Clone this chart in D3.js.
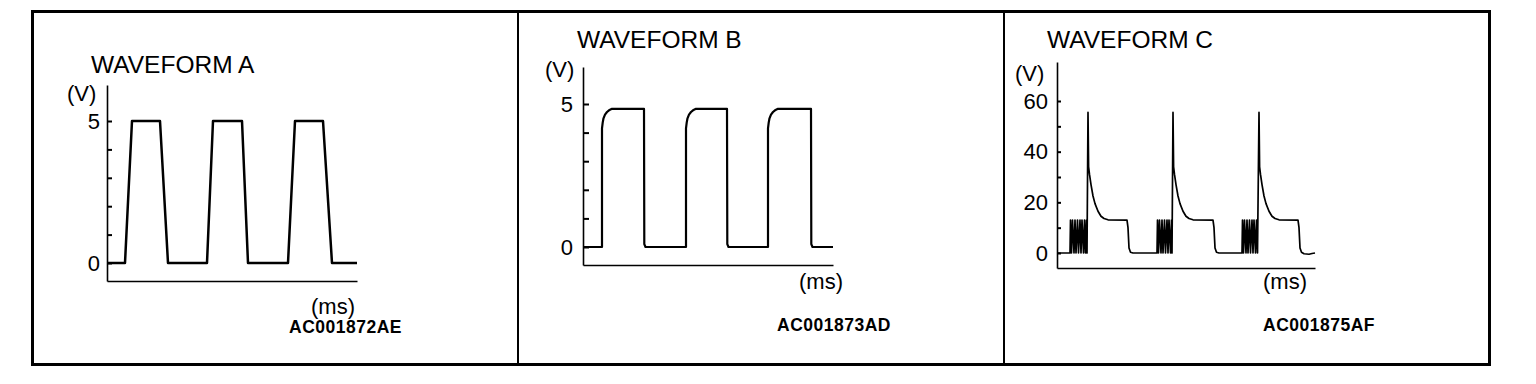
<!DOCTYPE html>
<html>
<head>
<meta charset="utf-8">
<script src="https://cdn.jsdelivr.net/npm/d3@7"></script>
<style>
  body { margin: 0; background: #fff; }
  svg { display: block; }
  text { font-family: "Liberation Sans", Arial, Helvetica, sans-serif; fill: #000; }
</style>
</head>
<body>
<svg id="vis" width="1536" height="384"></svg>
<script>
// chart texts
const titles = ["WAVEFORM A", "WAVEFORM B", "WAVEFORM C"];
const codes = ["AC001872AE", "AC001873AD", "AC001875AF"];
const unitY = "(V)";
const unitX = "(ms)";

// y ticks and which of them carry a label
const ticksA = [0, 1, 2, 3, 4, 5];
const labelsA = [0, 5];
const ticksB = [0, 1, 2, 3, 4, 5];
const labelsB = [0, 5];
const ticksC = [0, 10, 20, 30, 40, 50, 60];
const labelsC = [0, 20, 40, 60];

// waveform A (trapezoid pulses)
const timeA = [0, 18, 25, 53, 61, 100, 106, 135, 141, 181, 188, 216, 225, 250];
const voltA = [0, 0, 5, 5, 0, 0, 5, 5, 0, 0, 5, 5, 0, 0];

// waveform B (square pulses with rounded rise)
const timeB = [0, 19, 19, 19.7, 20.5, 22, 24, 26, 29, 61, 61.3, 62.5,
               103, 103, 103.7, 104.5, 106, 108, 110, 113, 144, 144.3, 145.5,
               185, 185, 185.7, 186.5, 188, 190, 192, 195, 228, 228.3, 229.5, 250];
const voltB = [0, 0, 4.15, 4.35, 4.5, 4.63, 4.72, 4.78, 4.83, 4.83, 0.1, 0,
               0, 4.15, 4.35, 4.5, 4.63, 4.72, 4.78, 4.83, 4.83, 0.1, 0,
               0, 4.15, 4.35, 4.5, 4.63, 4.72, 4.78, 4.83, 4.83, 0.1, 0, 0];

// waveform C (chatter, surge spike, decay, plateau)
const timeC = [0, 13, 13.5, 14.5, 15.5, 17, 18, 19, 20.5, 21.5, 23, 24, 25, 26.5, 27.5, 28.5, 29.5, 30,
               31, 31.6, 32.5, 34, 36, 38, 41, 44, 47, 51, 70, 71, 72, 73.5, 76,
               100, 100.5, 101.5, 102.5, 104, 105, 106, 107.5, 108.5, 110, 111, 112, 113.5, 114.5, 115,
               116, 116.6, 117.5, 119, 121, 123, 126, 129, 132, 136, 156, 157, 158, 159.5, 162,
               185, 185.5, 186.5, 187.5, 189, 190, 191, 192.5, 193.5, 195, 196, 197, 198.5, 199.5, 200.5,
               202, 202.6, 203.5, 205, 207, 209, 212, 215, 218, 222, 241, 242, 243, 244.5, 247, 252, 255, 258];
const voltC = [0, 0, 13, 0, 13, 0, 13, 0, 13, 0, 13, 0, 13, 0, 13, 0, 13, 0,
               55.5, 34, 31, 27, 22.5, 19.5, 16.5, 14.5, 13.6, 13.1, 13, 10, 2, 0.3, 0,
               0, 13, 0, 13, 0, 13, 0, 13, 0, 13, 0, 13, 0, 13, 0,
               55.5, 34, 31, 27, 22.5, 19.5, 16.5, 14.5, 13.6, 13.1, 13, 10, 2, 0.3, 0,
               0, 13, 0, 13, 0, 13, 0, 13, 0, 13, 0, 13, 0, 13, 0,
               55.5, 34, 31, 27, 22.5, 19.5, 16.5, 14.5, 13.6, 13.1, 13, 10, 2, 0.3, -0.3, -0.5, -0.2, 0];

// panel layout
const panels = [
    { time: timeA, volt: voltA, ticks: ticksA, labels: labelsA, tMax: 250, topV: 5,
      x0: 107, x1: 357, yBot: 281, yTop: 85, zeroY: 263, topY: 121, tickLen: 5, pad: 7, lw: 2.5,
      title: [91, 73], vLab: [67, 101], msLab: [311, 314], code: [289, 333] },
    { time: timeB, volt: voltB, ticks: ticksB, labels: labelsB, tMax: 250, topV: 5,
      x0: 583, x1: 833, yBot: 265, yTop: 67, zeroY: 247, topY: 104, tickLen: 6, pad: 10, lw: 2.2,
      title: [577, 48], vLab: [545, 77], msLab: [799, 289], code: [777, 331] },
    { time: timeC, volt: voltC, ticks: ticksC, labels: labelsC, tMax: 258, topV: 60,
      x0: 1057, x1: 1315, yBot: 268, yTop: 62, zeroY: 253, topY: 101, tickLen: 4, pad: 9, lw: 1.7,
      title: [1047, 48], vLab: [1015, 81], msLab: [1263, 289], code: [1263, 331] }
];

const svg = d3.select("#vis");

// outer frame and dividers
svg.append("rect")
    .attr("x", 32.5).attr("y", 11.5)
    .attr("width", 1457).attr("height", 353)
    .attr("fill", "none").attr("stroke", "#000").attr("stroke-width", 3);
[518, 1004].forEach(xv => {
    svg.append("line")
        .attr("x1", xv).attr("x2", xv).attr("y1", 11).attr("y2", 365)
        .attr("stroke", "#000").attr("stroke-width", 2);
});

panels.forEach((p, i) => {
    const g = svg.append("g");

    const x = d3.scaleLinear().domain([0, p.tMax]).range([p.x0, p.x1]);
    const y = d3.scaleLinear().domain([0, p.topV]).range([p.zeroY, p.topY]);
    // stretch the axis past the data range, as in the drawing
    y.domain([y.invert(p.yBot), y.invert(p.yTop)]).range([p.yBot, p.yTop]);

    const yAxis = d3.axisLeft(y)
        .tickValues(p.ticks)
        .tickSizeInner(-p.tickLen)
        .tickSizeOuter(0)
        .tickPadding(p.pad)
        .tickFormat(d => p.labels.includes(d) ? d : "");
    const ya = g.append("g")
        .attr("transform", `translate(${p.x0},0)`)
        .call(yAxis)
        .attr("font-family", null)
        .attr("font-size", 22);
    ya.select(".domain").attr("stroke-width", 1.6);
    ya.selectAll(".tick line").attr("stroke-width", 2);

    const xAxis = d3.axisBottom(x).tickValues([]).tickSizeOuter(0);
    g.append("g")
        .attr("transform", `translate(0,${p.yBot})`)
        .call(xAxis)
        .select(".domain").attr("stroke-width", 1.6);

    const line = d3.line()
        .x(d => x(d[0]))
        .y(d => y(d[1]));
    g.append("path")
        .datum(d3.zip(p.time, p.volt))
        .attr("d", line)
        .attr("fill", "none")
        .attr("stroke", "#000")
        .attr("stroke-width", p.lw)
        .attr("stroke-linejoin", "round");

    g.append("text")
        .attr("x", p.title[0]).attr("y", p.title[1])
        .style("font-size", "24.5px")
        .text(titles[i]);
    g.append("text")
        .attr("x", p.vLab[0]).attr("y", p.vLab[1])
        .style("font-size", "22px")
        .text(unitY);
    g.append("text")
        .attr("x", p.msLab[0]).attr("y", p.msLab[1])
        .style("font-size", "22px")
        .text(unitX);
    g.append("text")
        .attr("x", p.code[0]).attr("y", p.code[1])
        .style("font-size", "17.5px")
        .style("font-weight", "bold")
        .style("letter-spacing", "0.5px")
        .text(codes[i]);
});
</script>
</body>
</html>
